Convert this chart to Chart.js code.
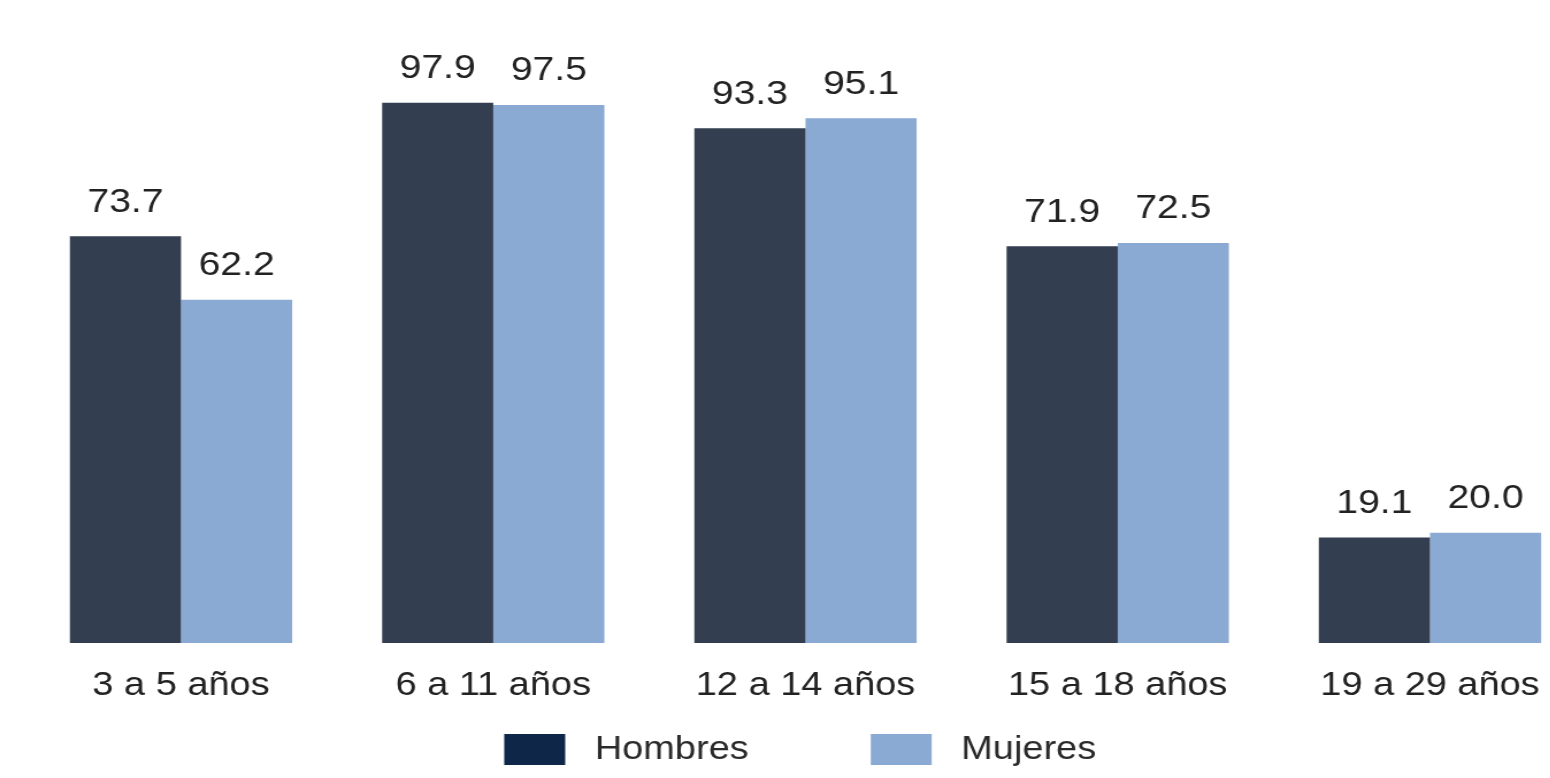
<!DOCTYPE html>
<html>
<head>
<meta charset="utf-8">
<script src="https://cdn.jsdelivr.net/npm/chart.js@4"></script>
<style>
  html, body { margin: 0; padding: 0; background: #ffffff; overflow: hidden; width: 1550px; height: 778px; }
  #wrap { width: 1400px; height: 778px; transform: scaleX(1.15); transform-origin: 0 0; }
</style>
</head>
<body>
<div id="wrap"><canvas id="c"></canvas></div>
<script>
const categories = ["3 a 5 años", "6 a 11 años", "12 a 14 años", "15 a 18 años", "19 a 29 años"];
const seriesNames = ["Hombres", "Mujeres"];
const hombres = [73.7, 97.9, 93.3, 71.9, 19.1];
const mujeres = [62.2, 97.5, 95.1, 72.5, 20.0];

const barColors = ["#333e50", "#8aaad3"];
const legendColors = ["#0e2749", "#8aaad3"];
const FONT = "'Liberation Sans', Arial, Helvetica, sans-serif";

const valueLabels = {
  id: 'valueLabels',
  afterDatasetsDraw(chart) {
    const ctx = chart.ctx;
    ctx.save();
    ctx.font = "34px " + FONT;
    ctx.fillStyle = "#222222";
    ctx.textAlign = "center";
    ctx.textBaseline = "alphabetic";
    chart.data.datasets.forEach((ds, di) => {
      const meta = chart.getDatasetMeta(di);
      meta.data.forEach((el, i) => {
        ctx.fillText(ds.data[i].toFixed(1), el.x, el.y - 24.5);
      });
    });
    ctx.restore();
  }
};

new Chart(document.getElementById('c'), {
  type: 'bar',
  data: {
    labels: categories,
    datasets: [
      { label: seriesNames[0], data: hombres, backgroundColor: barColors[0], categoryPercentage: 0.712, barPercentage: 1.0 },
      { label: seriesNames[1], data: mujeres, backgroundColor: barColors[1], categoryPercentage: 0.712, barPercentage: 1.0 }
    ]
  },
  options: {
    responsive: true,
    maintainAspectRatio: false,
    animation: false,
    layout: { padding: { top: 36, left: 21.65, right: 20.8, bottom: 2 } },
    scales: {
      x: {
        grid: { display: false, drawTicks: false, tickLength: 0 },
        border: { display: false },
        ticks: { font: { family: FONT, size: 33 }, color: "#222222", padding: 23 },
        afterFit(scale) { scale.height = 75.5; }
      },
      y: { display: false, min: 0, max: 110 }
    },
    plugins: {
      tooltip: { enabled: false },
      legend: {
        position: 'bottom',
        labels: {
          boxWidth: 53,
          boxHeight: 31,
          padding: 14.5,
          color: "#2a2a2a",
          font: { family: FONT, size: 33 },
          generateLabels(chart) {
            return chart.data.datasets.map((ds, i) => ({
              text: i === 0 ? " " + ds.label + "          " : " " + ds.label + " ",
              fillStyle: legendColors[i],
              strokeStyle: legendColors[i],
              lineWidth: 0,
              hidden: false,
              datasetIndex: i,
              fontColor: "#2a2a2a"
            }));
          }
        }
      }
    }
  },
  plugins: [valueLabels]
});
</script>
</body>
</html>
